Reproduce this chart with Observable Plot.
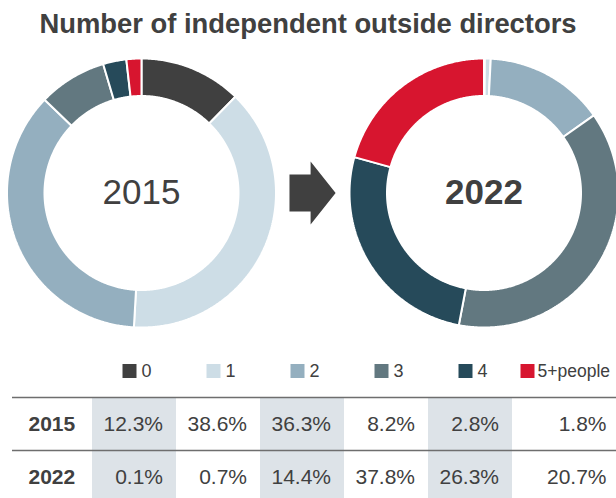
<!DOCTYPE html>
<html><head><meta charset="utf-8">
<script src="https://cdn.jsdelivr.net/npm/d3@7"></script>
<script src="https://cdn.jsdelivr.net/npm/@observablehq/plot@0.6"></script>
<style>
body{margin:0;background:#fff;font-family:"Liberation Sans",Arial,Helvetica,sans-serif;}
#wrap{width:616px;overflow:hidden;}
#title{height:48px;line-height:47px;text-align:center;font-weight:700;font-size:27.4px;color:#404040;white-space:nowrap;}
svg{display:block}
</style></head><body>
<div id="wrap"><div id="title">Number of independent outside directors</div><div id="donuts"></div><div id="table"></div></div>
<script>
// ---- data ----
const categories = ["0", "1", "2", "3", "4", "5+people"];
const years = ["2015", "2022"];
const share2015 = [12.3, 38.6, 36.3, 8.2, 2.8, 1.8];
const share2022 = [0.1, 0.7, 14.4, 37.8, 26.3, 20.7];
const colors = ["#404040", "#cddde6", "#94afbf", "#627880", "#264a5a", "#d7152f"];
const shadedCategories = ["0", "2", "4"];

// ---- layout constants ----
const FONT = '"Liberation Sans", Arial, Helvetica, sans-serif';
const INNER = 0.7212;     // inner radius / outer radius
const GAP = 2.5465;       // distance between donut centres (in outer radii)
const shares = [share2015, share2022];

// slice polygons (unit circle, clockwise from 12 o'clock)
const slicePts = [];
years.forEach((yr, yi) => {
  const cx = yi * GAP;
  let acc = 0;
  shares[yi].forEach((v, ci) => {
    const a0 = acc / 100 * 2 * Math.PI, a1 = (acc + v) / 100 * 2 * Math.PI;
    acc += v;
    const n = Math.max(2, Math.ceil((a1 - a0) / (Math.PI / 360)));
    const outer = [];
    for (let k = 0; k <= n; k++) { const a = a0 + (a1 - a0) * k / n; outer.push([Math.sin(a), Math.cos(a)]); }
    const ring = [...outer, ...outer.slice().reverse().map(([x, y]) => [x * INNER, y * INNER])];
    ring.push(ring[0]);
    const key = yr + "-" + categories[ci];
    ring.forEach(([x, y]) => slicePts.push({key, cat: categories[ci], x: cx + x, y}));
  });
});

// block arrow between the donuts
const mid = GAP / 2;
const arrowShape = [[-0.173, 0.138], [-0.016, 0.138], [-0.016, 0.234], [0.170, 0], [-0.016, -0.234], [-0.016, -0.138], [-0.173, -0.138]];
const arrowPts = arrowShape.map(([x, y]) => ({x: mid + x, y}));

const centreLabels = years.map((y, i) => ({year: y, x: i * GAP, y0: 0}));

const donuts = Plot.plot({
  width: 616, height: 298, margin: 0,
  x: {domain: [-1.0483, 3.5316], axis: null},
  y: {domain: [-1.1413, 1.0743], axis: null},
  color: {domain: categories, range: colors},
  style: {fontFamily: FONT, background: "white"},
  marks: [
    Plot.line(slicePts, {x: "x", y: "y", z: "key", fill: "cat", stroke: "white", strokeWidth: 2, strokeLinejoin: "miter"}),
    Plot.line(arrowPts, {x: "x", y: "y", fill: "#404040", stroke: "none"}),
    Plot.text(centreLabels.slice(0, 1), {x: "x", y: "y0", text: "year", fontSize: 35, fill: "#404040"}),
    Plot.text(centreLabels.slice(1), {x: "x", y: "y0", text: "year", fontSize: 35, fontWeight: "bold", fill: "#404040"})
  ]
});
document.getElementById("donuts").appendChild(donuts);

// table
const cellRows = years.flatMap((y, i) => categories.map((c, j) => ({year: y, cat: c, value: shares[i][j]})));
const lastCat = categories[categories.length - 1];
const table = Plot.plot({
  width: 616, height: 152, marginLeft: 12, marginRight: 0, marginTop: 0, marginBottom: 0,
  x: {type: "band", domain: categories, range: [92, 596], padding: 0, axis: null},
  y: {type: "band", domain: ["legend", ...years], range: [-2.5, 156.5], padding: 0, axis: null},
  color: {domain: categories, range: colors},
  style: {fontFamily: FONT, background: "white"},
  marks: [
    Plot.cell(cellRows.filter(d => shadedCategories.includes(d.cat)), {x: "cat", y: "year", fill: "#dde3e8", inset: 0}),
    Plot.ruleY(years, {y: d => d, dy: -26.5, stroke: "#6e6e6e", strokeWidth: 1.5}),
    Plot.text(years, {y: d => d, text: d => d, frameAnchor: "left", dx: 16, textAnchor: "start", fontWeight: "bold", fontSize: 21, fill: "#404040"}),
    Plot.text(cellRows.filter(d => d.cat !== lastCat), {x: "cat", y: "year", text: d => d.value.toFixed(1) + "%", textAnchor: "end", dx: 28.5, fontSize: 21, fill: "#404040"}),
    Plot.text(cellRows.filter(d => d.cat === lastCat), {x: "cat", y: "year", text: d => d.value.toFixed(1) + "%", textAnchor: "end", dx: 52, fontSize: 21, fill: "#404040"}),
    Plot.dot(categories.filter(c => c !== lastCat), {x: d => d, y: () => "legend", symbol: "square", r: 7.9, fill: d => d, stroke: "none", dx: -5}),
    Plot.dot([lastCat], {x: d => d, y: () => "legend", symbol: "square", r: 7.9, fill: d => d, stroke: "none", dx: -27}),
    Plot.text(categories.filter(c => c !== lastCat), {x: d => d, y: () => "legend", text: d => d, textAnchor: "start", dx: 7, fontSize: 18, fill: "#404040"}),
    Plot.text([lastCat], {x: d => d, y: () => "legend", text: d => d, textAnchor: "start", dx: -17, fontSize: 17.5, fill: "#404040"})
  ]
});
document.getElementById("table").appendChild(table);
</script>
</body></html>
